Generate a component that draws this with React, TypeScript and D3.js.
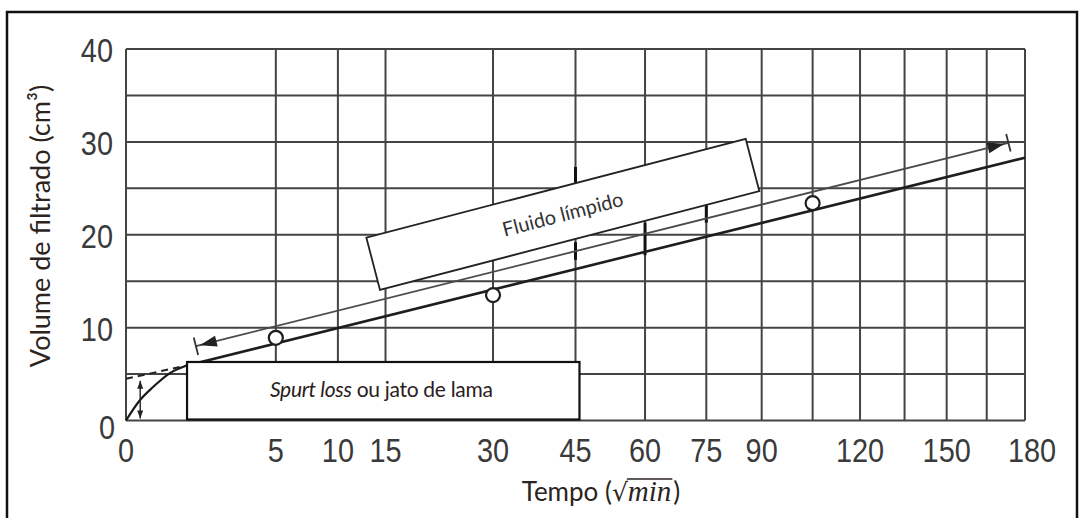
import React, { useEffect, useRef } from "react";
import * as d3 from "d3";

const W = 1080;
const H = 518;

// axis ticks (time in min on a sqrt axis, volume in cm3)
const xTickValues = [0, 5, 10, 15, 30, 45, 60, 75, 90, 120, 150, 180];
const xGridValues = [0, 5, 10, 15, 30, 45, 60, 75, 90, 105, 120, 135, 150, 165, 180];
const yTickValues = [0, 10, 20, 30, 40];
const yGridValues = [0, 5, 10, 15, 20, 25, 30, 35, 40];

// measured filtrate points
const pointTimes = [5, 30, 105];
const pointVolumes = [8.9, 13.5, 23.4];

// initial (spurt) curve
const spurtTimes = [0, 0.044, 0.163, 0.43, 0.8];
const spurtVolumes = [0, 2.2, 3.6, 5.1, 5.9];

// straight filtration line
const lineTimes = [0.8, 180];
const lineVolumes = [5.9, 28.3];

// dashed back-extrapolation to t = 0
const extrapTimes = [0, 0.8];
const extrapVolumes = [4.5, 5.9];

// arrow parallel to the line (clear fluid)
const arrowTimes = [1.09, 173.4];
const arrowVolumes = [8.0, 29.9];

// spurt loss marker
const spurtMarkTime = 0.045;
const spurtLossVolume = 4.5;

// darker pieces of gridlines
const markTimes = [45, 45, 60, 75];
const markFrom = [25.6, 17.3, 17.8, 21.3];
const markTo = [27.3, 19.2, 21.3, 23.2];

const App = () => {
  const ref = useRef<SVGSVGElement>(null);

  useEffect(() => {
    const svg = d3.select(ref.current);
    svg.selectAll("*").remove();

    const x = d3.scaleSqrt().domain([0, 180]).range([126, 1025]);
    const y = d3.scaleLinear().domain([0, 40]).range([420.5, 49]);
    const gridColor = "#444";
    const labelColor = "#3a3a3a";
    const sans = "Lato, 'Open Sans', sans-serif";

    // outer frame
    svg
      .append("rect")
      .attr("x", 7)
      .attr("y", 12)
      .attr("width", 1070)
      .attr("height", 520)
      .attr("fill", "#fff")
      .attr("stroke", "#111")
      .attr("stroke-width", 2.5);

    // grid
    const grid = svg.append("g").attr("stroke", gridColor).attr("stroke-width", 2);
    grid
      .selectAll("line.v")
      .data(xGridValues)
      .enter()
      .append("line")
      .attr("x1", (d) => x(d))
      .attr("x2", (d) => x(d))
      .attr("y1", y(0))
      .attr("y2", y(40));
    grid
      .selectAll("line.h")
      .data(yGridValues)
      .enter()
      .append("line")
      .attr("x1", x(0))
      .attr("x2", x(180))
      .attr("y1", (d) => y(d))
      .attr("y2", (d) => y(d));

    // darker marks on grid
    svg
      .append("g")
      .attr("stroke", "#111")
      .attr("stroke-width", 3)
      .selectAll("line")
      .data(markTimes)
      .enter()
      .append("line")
      .attr("x1", (d) => x(d))
      .attr("x2", (d) => x(d))
      .attr("y1", (_, i) => y(markFrom[i]))
      .attr("y2", (_, i) => y(markTo[i]));

    // tick labels
    const tickFont = "'Liberation Sans', Arial, sans-serif";
    svg
      .append("g")
      .selectAll("text")
      .data(yTickValues)
      .enter()
      .append("text")
      .attr("transform", (d) => `translate(${d === 0 ? 115 : 113},${y(d) + (d === 0 ? 18 : 13)}) scale(0.85,1)`)
      .attr("text-anchor", "end")
      .attr("font-family", tickFont)
      .attr("font-size", 34)
      .attr("fill", labelColor)
      .text((d) => d);
    svg
      .append("g")
      .selectAll("text")
      .data(xTickValues)
      .enter()
      .append("text")
      .attr("transform", (d) => `translate(${x(d) + (d === 180 ? 7 : 0)},462) scale(0.85,1)`)
      .attr("text-anchor", "middle")
      .attr("font-family", tickFont)
      .attr("font-size", 34)
      .attr("fill", labelColor)
      .text((d) => d);

    const pt = (t: number, v: number): [number, number] => [x(t), y(v)];
    const line = d3.line();

    // dashed extrapolation
    svg
      .append("path")
      .attr("d", line(extrapTimes.map((t, i) => pt(t, extrapVolumes[i]))))
      .attr("fill", "none")
      .attr("stroke", "#222")
      .attr("stroke-width", 2)
      .attr("stroke-dasharray", "7,5");

    // spurt curve
    svg
      .append("path")
      .attr("d", d3.line().curve(d3.curveMonotoneX)(spurtTimes.map((t, i) => pt(t, spurtVolumes[i]))))
      .attr("fill", "none")
      .attr("stroke", "#1a1a1a")
      .attr("stroke-width", 2.2);

    // main line
    svg
      .append("path")
      .attr("d", line(lineTimes.map((t, i) => pt(t, lineVolumes[i]))))
      .attr("fill", "none")
      .attr("stroke", "#1e1e1e")
      .attr("stroke-width", 2.6);

    // arrow line
    const a0 = pt(arrowTimes[0], arrowVolumes[0]);
    const a1 = pt(arrowTimes[1], arrowVolumes[1]);
    svg
      .append("path")
      .attr("d", line([a0, a1]))
      .attr("fill", "none")
      .attr("stroke", "#4a4a4a")
      .attr("stroke-width", 1.8);
    const len = Math.hypot(a1[0] - a0[0], a1[1] - a0[1]);
    const ux = (a1[0] - a0[0]) / len;
    const uy = (a1[1] - a0[1]) / len;
    const head = (tip: [number, number], dir: number) => {
      const bx = tip[0] - dir * ux * 17;
      const by = tip[1] - dir * uy * 17;
      return [
        tip,
        [bx - uy * 5.5, by + ux * 5.5],
        [bx + uy * 5.5, by - ux * 5.5],
      ];
    };
    const tipL: [number, number] = [a0[0] + ux * 4, a0[1] + uy * 4];
    const tipR: [number, number] = [a1[0] - ux * 4, a1[1] - uy * 4];
    [head(tipL, -1), head(tipR, 1)].forEach((p) => {
      svg
        .append("polygon")
        .attr("points", p.map((q) => q.join(",")).join(" "))
        .attr("fill", "#222");
    });
    [a0, a1].forEach((p) => {
      svg
        .append("line")
        .attr("x1", p[0] + uy * 9)
        .attr("y1", p[1] - ux * 9)
        .attr("x2", p[0] - uy * 9)
        .attr("y2", p[1] + ux * 9)
        .attr("stroke", "#333")
        .attr("stroke-width", 1.8);
    });

    // spurt loss double arrow
    const sx = x(spurtMarkTime);
    const sTop = y(spurtLossVolume);
    const sBot = y(0);
    svg
      .append("line")
      .attr("x1", sx)
      .attr("x2", sx)
      .attr("y1", sTop + 2)
      .attr("y2", sBot - 2)
      .attr("stroke", "#222")
      .attr("stroke-width", 1.4);
    svg
      .append("polygon")
      .attr("points", `${sx},${sTop + 2} ${sx - 3},${sTop + 10} ${sx + 3},${sTop + 10}`)
      .attr("fill", "#222");
    svg
      .append("polygon")
      .attr("points", `${sx},${sBot - 2} ${sx - 3},${sBot - 10} ${sx + 3},${sBot - 10}`)
      .attr("fill", "#222");

    // points
    svg
      .append("g")
      .selectAll("circle")
      .data(pointTimes)
      .enter()
      .append("circle")
      .attr("cx", (d) => x(d))
      .attr("cy", (_, i) => y(pointVolumes[i]))
      .attr("r", 7)
      .attr("fill", "#fff")
      .attr("stroke", "#1e1e1e")
      .attr("stroke-width", 2.2);

    // spurt loss box
    const bx0 = x(0.83);
    const bx1 = x(45.8);
    const by0 = y(6.3);
    const by1 = y(0) - 1;
    svg
      .append("rect")
      .attr("x", bx0)
      .attr("y", by0)
      .attr("width", bx1 - bx0)
      .attr("height", by1 - by0)
      .attr("fill", "#fff")
      .attr("stroke", "#111")
      .attr("stroke-width", 2.2);
    const st = svg
      .append("text")
      .attr("x", (bx0 + bx1) / 2 - 2)
      .attr("y", by0 + 35)
      .attr("text-anchor", "middle")
      .attr("font-family", sans)
      .attr("font-size", 21)
      .attr("letter-spacing", -0.3)
      .attr("fill", "#2a2020");
    st.append("tspan").attr("font-style", "italic").text("Spurt loss");
    st.append("tspan").text(" ou jato de lama");

    // fluido limpido box
    const fcx = x(42.5);
    const fcy = y(22.2);
    const fb = svg.append("g").attr("transform", `translate(${fcx},${fcy}) rotate(-14.6)`);
    fb.append("rect")
      .attr("x", -196)
      .attr("y", -27)
      .attr("width", 392)
      .attr("height", 54)
      .attr("fill", "#fff")
      .attr("stroke", "#222")
      .attr("stroke-width", 1.8);
    fb.append("text")
      .attr("x", 0)
      .attr("y", 7)
      .attr("text-anchor", "middle")
      .attr("font-family", sans)
      .attr("font-size", 20)
      .attr("fill", "#333")
      .text("Fluido límpido");

    // y axis title
    svg
      .append("text")
      .attr("transform", `translate(50,226) rotate(-90)`)
      .attr("text-anchor", "middle")
      .attr("font-family", sans)
      .attr("font-size", 27)
      .attr("fill", "#2b2420")
      .text("Volume de filtrado (cm³)");

    // x axis title: Tempo (√min)
    const tg = svg.append("g");
    const base = 501;
    const t1 = tg
      .append("text")
      .attr("y", base)
      .attr("font-family", sans)
      .attr("font-size", 26)
      .attr("fill", "#2b2420")
      .text("Tempo (");
    const w1 = (t1.node() as SVGTextElement).getComputedTextLength();
    const t2 = tg
      .append("text")
      .attr("x", w1)
      .attr("y", base)
      .attr("font-family", "'DejaVu Serif', serif")
      .attr("font-size", 25)
      .attr("fill", "#2b2420")
      .text("√");
    const w2 = (t2.node() as SVGTextElement).getComputedTextLength();
    const t3 = tg
      .append("text")
      .attr("x", w1 + w2)
      .attr("y", base)
      .attr("font-family", "'Liberation Serif', serif")
      .attr("font-style", "italic")
      .attr("font-size", 29)
      .attr("fill", "#2b2420")
      .text("min");
    const w3 = (t3.node() as SVGTextElement).getComputedTextLength();
    tg.append("line")
      .attr("x1", w1 + w2 - 1)
      .attr("x2", w1 + w2 + w3 + 1)
      .attr("y1", base - 22)
      .attr("y2", base - 22)
      .attr("stroke", "#2b2420")
      .attr("stroke-width", 1.4);
    const t4 = tg
      .append("text")
      .attr("x", w1 + w2 + w3 + 2)
      .attr("y", base)
      .attr("font-family", sans)
      .attr("font-size", 26)
      .attr("fill", "#2b2420")
      .text(")");
    const w4 = (t4.node() as SVGTextElement).getComputedTextLength();
    const total = w1 + w2 + w3 + 2 + w4;
    tg.attr("transform", `translate(${601 - total / 2},0)`);
  }, []);

  return (
    <svg
      ref={ref}
      width={W}
      height={H}
      style={{ position: "absolute", left: 0, top: 0, background: "#fff" }}
    />
  );
};

export default App;
